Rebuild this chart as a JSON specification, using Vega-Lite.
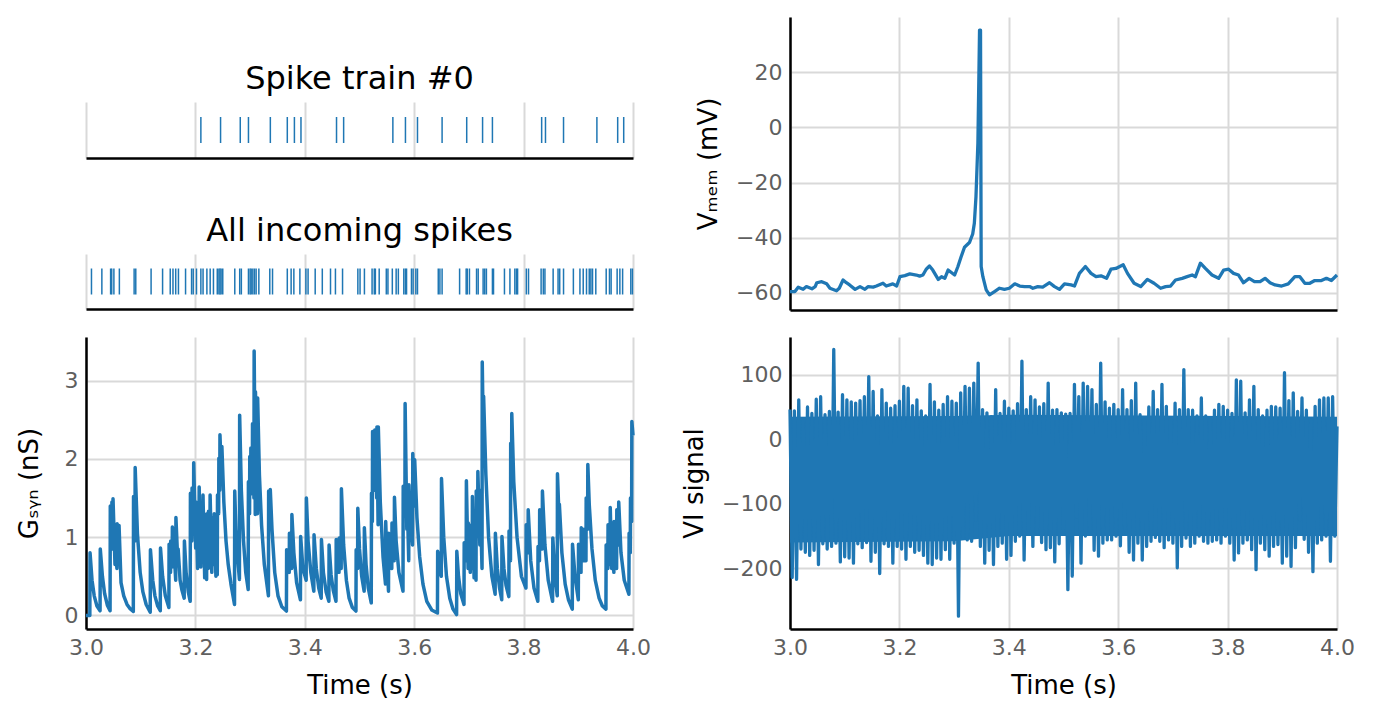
{
  "$schema": "https://vega.github.io/schema/vega-lite/v6.json",
  "padding": {"left": 16, "top": 17, "right": 0, "bottom": 0},
  "spacing": 30,
  "config": {
    "font": "DejaVu Sans",
    "view": {"stroke": null},
    "axis": {"labelFont": "DejaVu Sans", "labelFontSize": 22, "labelColor": "#5f5f5f", "titleFont": "DejaVu Sans", "titleFontSize": 26, "titleFontWeight": "normal", "titleColor": "#000000", "gridColor": "#d9d9d9", "gridWidth": 2, "domainColor": "#000000", "domainWidth": 2.5, "ticks": false, "labelPadding": 8, "labelFlush": false, "titlePadding": 14},
    "title": {"font": "DejaVu Sans", "fontSize": 32, "fontWeight": "normal", "color": "#000000"}
  },
  "datasets": {
    "spike0": [{"t":3.210},{"t":3.246},{"t":3.282},{"t":3.297},{"t":3.337},{"t":3.368},{"t":3.381},{"t":3.393},{"t":3.458},{"t":3.471},{"t":3.561},{"t":3.584},{"t":3.606},{"t":3.651},{"t":3.696},{"t":3.725},{"t":3.743},{"t":3.833},{"t":3.840},{"t":3.873},{"t":3.934},{"t":3.972},{"t":3.983}],
    "spikes": [{"t":3.010},{"t":3.029},{"t":3.045},{"t":3.047},{"t":3.051},{"t":3.061},{"t":3.088},{"t":3.091},{"t":3.119},{"t":3.140},{"t":3.154},{"t":3.159},{"t":3.164},{"t":3.169},{"t":3.182},{"t":3.193},{"t":3.196},{"t":3.202},{"t":3.210},{"t":3.214},{"t":3.221},{"t":3.227},{"t":3.233},{"t":3.240},{"t":3.243},{"t":3.245},{"t":3.247},{"t":3.250},{"t":3.272},{"t":3.281},{"t":3.284},{"t":3.297},{"t":3.300},{"t":3.302},{"t":3.305},{"t":3.308},{"t":3.311},{"t":3.316},{"t":3.336},{"t":3.341},{"t":3.368},{"t":3.375},{"t":3.380},{"t":3.391},{"t":3.402},{"t":3.406},{"t":3.419},{"t":3.432},{"t":3.447},{"t":3.456},{"t":3.469},{"t":3.497},{"t":3.501},{"t":3.509},{"t":3.523},{"t":3.527},{"t":3.529},{"t":3.536},{"t":3.549},{"t":3.552},{"t":3.560},{"t":3.567},{"t":3.571},{"t":3.581},{"t":3.584},{"t":3.586},{"t":3.595},{"t":3.598},{"t":3.603},{"t":3.606},{"t":3.644},{"t":3.647},{"t":3.651},{"t":3.683},{"t":3.695},{"t":3.697},{"t":3.701},{"t":3.714},{"t":3.717},{"t":3.726},{"t":3.729},{"t":3.732},{"t":3.743},{"t":3.745},{"t":3.765},{"t":3.775},{"t":3.784},{"t":3.787},{"t":3.789},{"t":3.805},{"t":3.809},{"t":3.832},{"t":3.836},{"t":3.839},{"t":3.854},{"t":3.863},{"t":3.866},{"t":3.873},{"t":3.891},{"t":3.903},{"t":3.909},{"t":3.915},{"t":3.920},{"t":3.923},{"t":3.926},{"t":3.932},{"t":3.951},{"t":3.957},{"t":3.960},{"t":3.971},{"t":3.976},{"t":3.981},{"t":3.996},{"t":3.999}],
    "gsyn": [{"t":3.000,"g":0},{"t":3.0070,"g":0},{"t":3.0074,"g":0.80},{"t":3.011,"g":0.45},{"t":3.015,"g":0.25},{"t":3.020,"g":0.12},{"t":3.0257,"g":0.06},{"t":3.0261,"g":0.85},{"t":3.030,"g":0.50},{"t":3.034,"g":0.28},{"t":3.039,"g":0.13},{"t":3.0440,"g":0.06},{"t":3.0444,"g":1.40},{"t":3.0470,"g":0.85},{"t":3.0474,"g":1.45},{"t":3.0490,"g":1.10},{"t":3.0494,"g":1.49},{"t":3.0530,"g":0.65},{"t":3.0534,"g":0.95},{"t":3.0565,"g":0.60},{"t":3.0569,"g":1.17},{"t":3.0600,"g":0.75},{"t":3.0604,"g":1.15},{"t":3.0640,"g":0.42},{"t":3.069,"g":0.25},{"t":3.075,"g":0.14},{"t":3.080,"g":0.09},{"t":3.0865,"g":0.05},{"t":3.0869,"g":1.52},{"t":3.0895,"g":0.95},{"t":3.0899,"g":1.89},{"t":3.094,"g":1.05},{"t":3.099,"g":0.55},{"t":3.104,"g":0.30},{"t":3.110,"g":0.14},{"t":3.1174,"g":0.04},{"t":3.1178,"g":0.84},{"t":3.122,"g":0.45},{"t":3.126,"g":0.25},{"t":3.131,"g":0.12},{"t":3.1358,"g":0.06},{"t":3.1362,"g":0.86},{"t":3.140,"g":0.50},{"t":3.145,"g":0.25},{"t":3.1515,"g":0.10},{"t":3.1519,"g":0.91},{"t":3.1545,"g":0.55},{"t":3.1549,"g":0.95},{"t":3.1575,"g":0.62},{"t":3.1579,"g":1.13},{"t":3.1605,"g":0.70},{"t":3.1609,"g":0.85},{"t":3.1640,"g":0.45},{"t":3.1644,"g":1.25},{"t":3.1680,"g":0.65},{"t":3.1684,"g":0.85},{"t":3.1720,"g":0.45},{"t":3.1755,"g":0.32},{"t":3.1795,"g":0.22},{"t":3.1799,"g":0.95},{"t":3.183,"g":0.55},{"t":3.187,"g":0.30},{"t":3.1905,"g":0.18},{"t":3.1909,"g":1.56},{"t":3.1935,"g":0.95},{"t":3.1939,"g":1.63},{"t":3.1965,"g":1.10},{"t":3.1969,"g":1.95},{"t":3.2005,"g":0.86},{"t":3.2009,"g":1.45},{"t":3.2040,"g":0.60},{"t":3.2044,"g":1.41},{"t":3.2065,"g":0.90},{"t":3.2069,"g":1.64},{"t":3.2100,"g":0.62},{"t":3.2104,"g":1.30},{"t":3.2135,"g":0.78},{"t":3.2139,"g":1.54},{"t":3.2170,"g":0.48},{"t":3.2174,"g":1.29},{"t":3.2205,"g":0.46},{"t":3.2209,"g":1.30},{"t":3.2235,"g":0.60},{"t":3.2239,"g":1.33},{"t":3.2265,"g":0.75},{"t":3.2269,"g":1.54},{"t":3.2300,"g":0.55},{"t":3.2304,"g":1.25},{"t":3.2340,"g":0.65},{"t":3.2344,"g":1.30},{"t":3.2375,"g":0.50},{"t":3.2379,"g":1.10},{"t":3.2400,"g":0.52},{"t":3.2404,"g":1.54},{"t":3.2425,"g":1.30},{"t":3.2429,"g":2.01},{"t":3.2445,"g":1.60},{"t":3.2449,"g":2.31},{"t":3.2480,"g":1.70},{"t":3.2484,"g":2.16},{"t":3.252,"g":1.45},{"t":3.256,"g":0.95},{"t":3.260,"g":0.65},{"t":3.265,"g":0.40},{"t":3.2715,"g":0.14},{"t":3.2719,"g":1.59},{"t":3.274,"g":1.10},{"t":3.277,"g":0.75},{"t":3.2805,"g":0.46},{"t":3.2809,"g":2.56},{"t":3.284,"g":1.60},{"t":3.288,"g":0.95},{"t":3.292,"g":0.55},{"t":3.2965,"g":0.33},{"t":3.2969,"g":1.71},{"t":3.2990,"g":1.30},{"t":3.2994,"g":2.03},{"t":3.3010,"g":1.55},{"t":3.3014,"g":2.14},{"t":3.3040,"g":1.60},{"t":3.3044,"g":2.45},{"t":3.3070,"g":1.50},{"t":3.3074,"g":3.38},{"t":3.3090,"g":2.00},{"t":3.3094,"g":1.29},{"t":3.3098,"g":2.86},{"t":3.3130,"g":1.70},{"t":3.3134,"g":1.30},{"t":3.3138,"g":2.78},{"t":3.317,"g":1.80},{"t":3.321,"g":1.15},{"t":3.326,"g":0.65},{"t":3.3335,"g":0.25},{"t":3.3339,"g":1.59},{"t":3.3365,"g":1.20},{"t":3.3369,"g":1.61},{"t":3.340,"g":1.10},{"t":3.345,"g":0.55},{"t":3.351,"g":0.25},{"t":3.358,"g":0.11},{"t":3.3664,"g":0.055},{"t":3.3668,"g":0.84},{"t":3.3715,"g":0.55},{"t":3.3719,"g":1.05},{"t":3.3760,"g":0.60},{"t":3.3764,"g":1.29},{"t":3.380,"g":0.80},{"t":3.385,"g":0.42},{"t":3.392,"g":0.20},{"t":3.3924,"g":1.01},{"t":3.3965,"g":0.60},{"t":3.4025,"g":0.45},{"t":3.4029,"g":1.50},{"t":3.406,"g":0.95},{"t":3.411,"g":0.55},{"t":3.4165,"g":0.31},{"t":3.4169,"g":1.03},{"t":3.421,"g":0.60},{"t":3.4255,"g":0.35},{"t":3.4300,"g":0.22},{"t":3.4304,"g":0.97},{"t":3.434,"g":0.55},{"t":3.439,"g":0.30},{"t":3.4440,"g":0.18},{"t":3.4444,"g":0.90},{"t":3.448,"g":0.52},{"t":3.452,"g":0.32},{"t":3.4570,"g":0.18},{"t":3.4574,"g":0.97},{"t":3.4625,"g":0.55},{"t":3.4629,"g":0.99},{"t":3.4665,"g":0.60},{"t":3.4669,"g":1.62},{"t":3.471,"g":0.90},{"t":3.476,"g":0.45},{"t":3.481,"g":0.22},{"t":3.487,"g":0.10},{"t":3.4935,"g":0.055},{"t":3.4939,"g":0.84},{"t":3.4965,"g":0.60},{"t":3.4969,"g":1.37},{"t":3.500,"g":0.85},{"t":3.504,"g":0.50},{"t":3.5085,"g":0.31},{"t":3.5089,"g":1.12},{"t":3.512,"g":0.65},{"t":3.516,"g":0.35},{"t":3.5215,"g":0.16},{"t":3.5219,"g":1.56},{"t":3.5235,"g":1.20},{"t":3.5239,"g":2.35},{"t":3.5275,"g":1.60},{"t":3.5279,"g":2.37},{"t":3.5315,"g":1.50},{"t":3.5319,"g":2.41},{"t":3.5340,"g":1.16},{"t":3.5344,"g":2.41},{"t":3.538,"g":1.45},{"t":3.543,"g":0.75},{"t":3.5475,"g":0.40},{"t":3.5479,"g":1.20},{"t":3.550,"g":0.75},{"t":3.5530,"g":0.31},{"t":3.5534,"g":1.05},{"t":3.5560,"g":0.75},{"t":3.5590,"g":0.60},{"t":3.5594,"g":1.18},{"t":3.5635,"g":0.70},{"t":3.5639,"g":1.51},{"t":3.567,"g":0.95},{"t":3.572,"g":0.55},{"t":3.5795,"g":0.31},{"t":3.5799,"g":1.65},{"t":3.5830,"g":1.30},{"t":3.5834,"g":2.71},{"t":3.5865,"g":1.10},{"t":3.5869,"g":1.60},{"t":3.5900,"g":0.70},{"t":3.5904,"g":1.67},{"t":3.5935,"g":1.00},{"t":3.5939,"g":1.20},{"t":3.5970,"g":0.90},{"t":3.5974,"g":2.07},{"t":3.6005,"g":1.40},{"t":3.6009,"g":1.99},{"t":3.605,"g":1.25},{"t":3.610,"g":0.75},{"t":3.616,"g":0.40},{"t":3.623,"g":0.18},{"t":3.632,"g":0.07},{"t":3.6425,"g":0.03},{"t":3.6429,"g":0.82},{"t":3.6495,"g":0.50},{"t":3.6499,"g":1.75},{"t":3.654,"g":1.00},{"t":3.659,"g":0.50},{"t":3.665,"g":0.22},{"t":3.671,"g":0.08},{"t":3.6775,"g":0.01},{"t":3.6779,"g":0.82},{"t":3.681,"g":0.50},{"t":3.685,"g":0.28},{"t":3.6910,"g":0.14},{"t":3.6914,"g":0.93},{"t":3.6950,"g":0.70},{"t":3.6954,"g":1.72},{"t":3.6985,"g":0.60},{"t":3.6989,"g":1.18},{"t":3.7025,"g":0.55},{"t":3.7029,"g":1.15},{"t":3.7060,"g":0.60},{"t":3.7064,"g":1.52},{"t":3.7095,"g":0.48},{"t":3.7099,"g":1.25},{"t":3.7130,"g":0.45},{"t":3.7134,"g":1.59},{"t":3.7160,"g":1.10},{"t":3.7164,"g":1.84},{"t":3.7200,"g":0.90},{"t":3.7204,"g":1.60},{"t":3.7240,"g":0.60},{"t":3.7244,"g":3.24},{"t":3.7265,"g":2.20},{"t":3.7269,"g":2.80},{"t":3.731,"g":1.80},{"t":3.736,"g":1.00},{"t":3.742,"g":0.50},{"t":3.748,"g":0.27},{"t":3.7484,"g":1.05},{"t":3.752,"g":0.60},{"t":3.756,"g":0.35},{"t":3.760,"g":0.20},{"t":3.7604,"g":1.01},{"t":3.764,"g":0.60},{"t":3.768,"g":0.38},{"t":3.7730,"g":0.24},{"t":3.7734,"g":1.08},{"t":3.7760,"g":0.70},{"t":3.7764,"g":2.20},{"t":3.7780,"g":1.80},{"t":3.7784,"g":2.58},{"t":3.782,"g":1.71},{"t":3.788,"g":1.00},{"t":3.796,"g":0.50},{"t":3.8043,"g":0.35},{"t":3.8047,"g":1.16},{"t":3.8080,"g":0.80},{"t":3.8084,"g":1.35},{"t":3.813,"g":0.70},{"t":3.819,"g":0.35},{"t":3.826,"g":0.18},{"t":3.8264,"g":0.88},{"t":3.8290,"g":0.70},{"t":3.8294,"g":1.35},{"t":3.8340,"g":0.85},{"t":3.8344,"g":1.59},{"t":3.839,"g":0.90},{"t":3.845,"g":0.45},{"t":3.8530,"g":0.18},{"t":3.8534,"g":0.99},{"t":3.8575,"g":0.50},{"t":3.8615,"g":0.25},{"t":3.8619,"g":1.81},{"t":3.8650,"g":1.20},{"t":3.8654,"g":1.42},{"t":3.870,"g":0.80},{"t":3.876,"g":0.40},{"t":3.882,"g":0.20},{"t":3.889,"g":0.08},{"t":3.8894,"g":0.91},{"t":3.894,"g":0.50},{"t":3.9000,"g":0.20},{"t":3.9004,"g":0.91},{"t":3.9050,"g":0.55},{"t":3.9054,"g":1.12},{"t":3.9095,"g":0.70},{"t":3.9099,"g":1.10},{"t":3.9140,"g":0.70},{"t":3.9144,"g":1.50},{"t":3.9170,"g":1.10},{"t":3.9174,"g":1.93},{"t":3.9200,"g":1.42},{"t":3.925,"g":0.85},{"t":3.931,"g":0.45},{"t":3.938,"g":0.22},{"t":3.944,"g":0.12},{"t":3.9505,"g":0.08},{"t":3.9509,"g":0.90},{"t":3.9540,"g":0.60},{"t":3.9544,"g":1.16},{"t":3.9580,"g":0.65},{"t":3.9584,"g":1.38},{"t":3.9610,"g":0.60},{"t":3.9614,"g":1.10},{"t":3.9650,"g":0.55},{"t":3.9654,"g":1.20},{"t":3.9700,"g":0.60},{"t":3.9704,"g":1.35},{"t":3.9735,"g":0.90},{"t":3.9739,"g":1.45},{"t":3.978,"g":0.80},{"t":3.984,"g":0.45},{"t":3.9925,"g":0.27},{"t":3.9929,"g":1.05},{"t":3.9950,"g":0.80},{"t":3.9954,"g":1.50},{"t":3.9975,"g":1.20},{"t":3.9979,"g":2.48},{"t":4.000,"g":2.30}],
    "vmem": [{"t":3.000,"v":-59.6},{"t":3.009,"v":-59.6},{"t":3.015,"v":-58.0},{"t":3.024,"v":-58.8},{"t":3.030,"v":-57.8},{"t":3.040,"v":-58.6},{"t":3.046,"v":-57.8},{"t":3.049,"v":-56.4},{"t":3.058,"v":-56.0},{"t":3.067,"v":-56.8},{"t":3.073,"v":-58.4},{"t":3.085,"v":-59.3},{"t":3.090,"v":-58.4},{"t":3.097,"v":-55.4},{"t":3.103,"v":-56.4},{"t":3.109,"v":-57.2},{"t":3.119,"v":-58.8},{"t":3.128,"v":-57.8},{"t":3.137,"v":-58.8},{"t":3.143,"v":-57.8},{"t":3.152,"v":-58.0},{"t":3.158,"v":-57.6},{"t":3.170,"v":-56.6},{"t":3.176,"v":-57.6},{"t":3.188,"v":-56.8},{"t":3.195,"v":-57.6},{"t":3.201,"v":-54.2},{"t":3.210,"v":-53.8},{"t":3.219,"v":-53.2},{"t":3.231,"v":-53.6},{"t":3.237,"v":-54.0},{"t":3.243,"v":-53.6},{"t":3.249,"v":-51.5},{"t":3.255,"v":-50.3},{"t":3.261,"v":-51.8},{"t":3.271,"v":-55.2},{"t":3.277,"v":-54.2},{"t":3.283,"v":-54.8},{"t":3.289,"v":-51.8},{"t":3.295,"v":-52.7},{"t":3.301,"v":-53.6},{"t":3.307,"v":-50.5},{"t":3.313,"v":-46.9},{"t":3.319,"v":-43.5},{"t":3.328,"v":-41.8},{"t":3.334,"v":-38.7},{"t":3.337,"v":-34.8},{"t":3.340,"v":-25.1},{"t":3.3435,"v":-5.7},{"t":3.3453,"v":18.5},{"t":3.3465,"v":35.3},{"t":3.3483,"v":35.3},{"t":3.3495,"v":-50.5},{"t":3.3526,"v":-54.2},{"t":3.3587,"v":-59.0},{"t":3.3647,"v":-60.8},{"t":3.3739,"v":-59.6},{"t":3.383,"v":-58.4},{"t":3.392,"v":-58.8},{"t":3.401,"v":-58.4},{"t":3.411,"v":-56.8},{"t":3.420,"v":-57.6},{"t":3.429,"v":-57.8},{"t":3.438,"v":-57.8},{"t":3.444,"v":-58.4},{"t":3.453,"v":-57.8},{"t":3.462,"v":-58.0},{"t":3.4745,"v":-56.4},{"t":3.4836,"v":-57.8},{"t":3.4927,"v":-58.8},{"t":3.5018,"v":-56.8},{"t":3.5139,"v":-57.2},{"t":3.520,"v":-57.6},{"t":3.5291,"v":-53.0},{"t":3.540,"v":-50.5},{"t":3.5503,"v":-53.0},{"t":3.5594,"v":-54.2},{"t":3.5685,"v":-53.9},{"t":3.5788,"v":-54.8},{"t":3.5867,"v":-51.5},{"t":3.5958,"v":-51.2},{"t":3.6091,"v":-49.9},{"t":3.617,"v":-53.0},{"t":3.6291,"v":-56.6},{"t":3.6412,"v":-57.8},{"t":3.6533,"v":-55.2},{"t":3.6655,"v":-56.6},{"t":3.6776,"v":-58.4},{"t":3.6867,"v":-57.8},{"t":3.6958,"v":-57.6},{"t":3.7048,"v":-55.4},{"t":3.717,"v":-54.8},{"t":3.7261,"v":-54.2},{"t":3.7352,"v":-53.6},{"t":3.7412,"v":-54.2},{"t":3.7503,"v":-49.3},{"t":3.7594,"v":-51.2},{"t":3.7715,"v":-53.6},{"t":3.7836,"v":-54.8},{"t":3.7927,"v":-51.8},{"t":3.8018,"v":-51.5},{"t":3.8109,"v":-53.0},{"t":3.820,"v":-53.6},{"t":3.8291,"v":-56.4},{"t":3.8394,"v":-54.8},{"t":3.8491,"v":-56.0},{"t":3.8594,"v":-56.0},{"t":3.8685,"v":-54.8},{"t":3.8776,"v":-56.4},{"t":3.8867,"v":-57.2},{"t":3.8988,"v":-57.6},{"t":3.9109,"v":-56.8},{"t":3.923,"v":-54.2},{"t":3.9321,"v":-54.2},{"t":3.9412,"v":-56.6},{"t":3.9503,"v":-56.6},{"t":3.9594,"v":-55.6},{"t":3.9715,"v":-55.6},{"t":3.9806,"v":-54.8},{"t":3.9897,"v":-55.6},{"t":4.000,"v":-53.6}],
    "vicore": [{"t":3.0,"lo":-160,"hi":35},{"t":3.3,"lo":-158,"hi":36},{"t":3.4,"lo":-150,"hi":38},{"t":4.0,"lo":-150,"hi":35}],
    "vi": [{"t":3.000,"v":46},{"t":3.004,"v":-214},{"t":3.008,"v":44},{"t":3.012,"v":-217},{"t":3.016,"v":61},{"t":3.020,"v":-170},{"t":3.024,"v":32},{"t":3.028,"v":-175},{"t":3.032,"v":50},{"t":3.036,"v":-180},{"t":3.040,"v":40},{"t":3.044,"v":-172},{"t":3.048,"v":62},{"t":3.052,"v":-194},{"t":3.056,"v":66},{"t":3.060,"v":-162},{"t":3.064,"v":38},{"t":3.068,"v":-170},{"t":3.072,"v":43},{"t":3.076,"v":-166},{"t":3.080,"v":139},{"t":3.084,"v":-161},{"t":3.088,"v":42},{"t":3.092,"v":-190},{"t":3.096,"v":69},{"t":3.100,"v":-182},{"t":3.104,"v":61},{"t":3.108,"v":-184},{"t":3.112,"v":58},{"t":3.116,"v":-192},{"t":3.120,"v":56},{"t":3.124,"v":-162},{"t":3.128,"v":60},{"t":3.132,"v":-168},{"t":3.136,"v":66},{"t":3.140,"v":-160},{"t":3.144,"v":97},{"t":3.148,"v":-189},{"t":3.152,"v":74},{"t":3.156,"v":-175},{"t":3.160,"v":36},{"t":3.164,"v":-208},{"t":3.168,"v":77},{"t":3.172,"v":-162},{"t":3.176,"v":56},{"t":3.180,"v":-166},{"t":3.184,"v":48},{"t":3.188,"v":-192},{"t":3.192,"v":52},{"t":3.196,"v":-166},{"t":3.200,"v":59},{"t":3.204,"v":-170},{"t":3.208,"v":82},{"t":3.212,"v":-186},{"t":3.216,"v":79},{"t":3.220,"v":-166},{"t":3.224,"v":52},{"t":3.228,"v":-175},{"t":3.232,"v":61},{"t":3.236,"v":-172},{"t":3.240,"v":44},{"t":3.244,"v":-180},{"t":3.248,"v":36},{"t":3.252,"v":-192},{"t":3.256,"v":85},{"t":3.260,"v":-194},{"t":3.264,"v":58},{"t":3.268,"v":-184},{"t":3.272,"v":45},{"t":3.276,"v":-186},{"t":3.280,"v":54},{"t":3.284,"v":-171},{"t":3.288,"v":66},{"t":3.292,"v":-186},{"t":3.296,"v":59},{"t":3.300,"v":-161},{"t":3.304,"v":56},{"t":3.308,"v":-274},{"t":3.312,"v":72},{"t":3.316,"v":-153},{"t":3.320,"v":82},{"t":3.324,"v":-156},{"t":3.328,"v":79},{"t":3.332,"v":-158},{"t":3.336,"v":87},{"t":3.340,"v":-125},{"t":3.344,"v":118},{"t":3.348,"v":-166},{"t":3.352,"v":46},{"t":3.356,"v":-192},{"t":3.360,"v":41},{"t":3.364,"v":-172},{"t":3.368,"v":35},{"t":3.372,"v":-194},{"t":3.376,"v":77},{"t":3.380,"v":-166},{"t":3.384,"v":40},{"t":3.388,"v":-161},{"t":3.392,"v":59},{"t":3.396,"v":-186},{"t":3.400,"v":48},{"t":3.404,"v":-180},{"t":3.408,"v":44},{"t":3.412,"v":-158},{"t":3.416,"v":55},{"t":3.420,"v":-150},{"t":3.424,"v":121},{"t":3.428,"v":-187},{"t":3.432,"v":46},{"t":3.436,"v":-140},{"t":3.440,"v":66},{"t":3.444,"v":-166},{"t":3.448,"v":61},{"t":3.452,"v":-145},{"t":3.456,"v":50},{"t":3.460,"v":-160},{"t":3.464,"v":55},{"t":3.468,"v":-171},{"t":3.472,"v":87},{"t":3.476,"v":-168},{"t":3.480,"v":45},{"t":3.484,"v":-190},{"t":3.488,"v":46},{"t":3.492,"v":-162},{"t":3.496,"v":41},{"t":3.500,"v":-140},{"t":3.504,"v":39},{"t":3.508,"v":-233},{"t":3.512,"v":40},{"t":3.516,"v":-212},{"t":3.520,"v":85},{"t":3.524,"v":-120},{"t":3.528,"v":66},{"t":3.532,"v":-192},{"t":3.536,"v":87},{"t":3.540,"v":-150},{"t":3.544,"v":82},{"t":3.548,"v":-142},{"t":3.552,"v":77},{"t":3.556,"v":-172},{"t":3.560,"v":54},{"t":3.564,"v":-181},{"t":3.568,"v":118},{"t":3.572,"v":-161},{"t":3.576,"v":58},{"t":3.580,"v":-156},{"t":3.584,"v":48},{"t":3.588,"v":-156},{"t":3.592,"v":54},{"t":3.596,"v":-150},{"t":3.600,"v":46},{"t":3.604,"v":-165},{"t":3.608,"v":77},{"t":3.612,"v":-140},{"t":3.616,"v":46},{"t":3.620,"v":-175},{"t":3.624,"v":60},{"t":3.628,"v":-187},{"t":3.632,"v":87},{"t":3.636,"v":-161},{"t":3.640,"v":38},{"t":3.644,"v":-187},{"t":3.648,"v":30},{"t":3.652,"v":-166},{"t":3.656,"v":50},{"t":3.660,"v":-158},{"t":3.664,"v":74},{"t":3.668,"v":-152},{"t":3.672,"v":46},{"t":3.676,"v":-158},{"t":3.680,"v":85},{"t":3.684,"v":-168},{"t":3.688,"v":51},{"t":3.692,"v":-156},{"t":3.696,"v":32},{"t":3.700,"v":-161},{"t":3.704,"v":56},{"t":3.708,"v":-199},{"t":3.712,"v":46},{"t":3.716,"v":-166},{"t":3.720,"v":108},{"t":3.724,"v":-153},{"t":3.728,"v":46},{"t":3.732,"v":-166},{"t":3.736,"v":45},{"t":3.740,"v":-161},{"t":3.744,"v":36},{"t":3.748,"v":-150},{"t":3.752,"v":64},{"t":3.756,"v":-158},{"t":3.760,"v":36},{"t":3.764,"v":-161},{"t":3.768,"v":33},{"t":3.772,"v":-158},{"t":3.776,"v":45},{"t":3.780,"v":-156},{"t":3.784,"v":54},{"t":3.788,"v":-161},{"t":3.792,"v":51},{"t":3.796,"v":-150},{"t":3.800,"v":45},{"t":3.804,"v":-161},{"t":3.808,"v":40},{"t":3.812,"v":-187},{"t":3.816,"v":92},{"t":3.820,"v":-176},{"t":3.824,"v":90},{"t":3.828,"v":-161},{"t":3.832,"v":41},{"t":3.836,"v":-156},{"t":3.840,"v":61},{"t":3.844,"v":-171},{"t":3.848,"v":82},{"t":3.852,"v":-202},{"t":3.856,"v":46},{"t":3.860,"v":-161},{"t":3.864,"v":36},{"t":3.868,"v":-171},{"t":3.872,"v":45},{"t":3.876,"v":-181},{"t":3.880,"v":51},{"t":3.884,"v":-166},{"t":3.888,"v":50},{"t":3.892,"v":-163},{"t":3.896,"v":48},{"t":3.900,"v":-192},{"t":3.904,"v":103},{"t":3.908,"v":-181},{"t":3.912,"v":60},{"t":3.916,"v":-197},{"t":3.920,"v":72},{"t":3.924,"v":-168},{"t":3.928,"v":43},{"t":3.932,"v":-125},{"t":3.936,"v":64},{"t":3.940,"v":-155},{"t":3.944,"v":45},{"t":3.948,"v":-175},{"t":3.952,"v":30},{"t":3.956,"v":-205},{"t":3.960,"v":51},{"t":3.964,"v":-161},{"t":3.968,"v":61},{"t":3.972,"v":-156},{"t":3.976,"v":64},{"t":3.980,"v":-150},{"t":3.984,"v":64},{"t":3.988,"v":-189},{"t":3.992,"v":66},{"t":3.996,"v":-150},{"t":4.000,"v":20}]
  },
  "hconcat": [
    {
      "spacing": 28,
      "vconcat": [
        {
          "width": 547, "height": 18,
          "data": {"values": [{}]},
          "mark": {"type": "text", "text": ""},
          "encoding": {}
        },
        {
          "spacing": 57,
          "vconcat": [
            {
              "width": 547, "height": 56,
              "title": {"text": "Spike train #0", "offset": 6},
              "data": {"name": "spike0"},
              "mark": {"type": "tick", "size": 26, "thickness": 1.5, "color": "#1f77b4", "opacity": 1},
              "encoding": {
                "x": {"field": "t", "type": "quantitative", "scale": {"domain": [3, 4], "nice": false}, "axis": {"values": [3, 3.2, 3.4, 3.6, 3.8, 4], "labels": false, "title": null, "grid": true}}
              }
            },
            {
              "width": 547, "height": 55,
              "title": {"text": "All incoming spikes", "offset": 6},
              "data": {"name": "spikes"},
              "mark": {"type": "tick", "size": 26, "thickness": 1.5, "color": "#1f77b4", "opacity": 1},
              "encoding": {
                "x": {"field": "t", "type": "quantitative", "scale": {"domain": [3, 4], "nice": false}, "axis": {"values": [3, 3.2, 3.4, 3.6, 3.8, 4], "labels": false, "title": null, "grid": true}}
              }
            }
          ]
        },
        {
          "width": 547, "height": 292,
          "data": {"name": "gsyn"},
          "mark": {"type": "line", "color": "#1f77b4", "strokeWidth": 3.5, "strokeJoin": "round"},
          "encoding": {
            "x": {"field": "t", "type": "quantitative", "scale": {"domain": [3, 4], "nice": false}, "axis": {"values": [3, 3.2, 3.4, 3.6, 3.8, 4], "format": ".1f", "title": "Time (s)", "grid": true}},
            "y": {"field": "g", "type": "quantitative", "scale": {"domain": [-0.174, 3.559], "nice": false, "zero": false}, "axis": {"values": [0, 1, 2, 3], "format": "d", "title": "Gₛᵧₙ (nS)", "titlePadding": 22, "grid": true}}
          }
        }
      ]
    },
    {
      "spacing": 27,
      "vconcat": [
        {
          "width": 547, "height": 293,
          "data": {"name": "vmem"},
          "mark": {"type": "line", "color": "#1f77b4", "strokeWidth": 3.3, "strokeJoin": "round"},
          "encoding": {
            "x": {"field": "t", "type": "quantitative", "scale": {"domain": [3, 4], "nice": false}, "axis": {"values": [3, 3.2, 3.4, 3.6, 3.8, 4], "labels": false, "title": null, "grid": true}},
            "y": {"field": "v", "type": "quantitative", "scale": {"domain": [-66.3, 40.1], "nice": false, "zero": false}, "axis": {"values": [-60, -40, -20, 0, 20], "format": "d", "title": "Vₘₑₘ (mV)", "grid": true}}
          }
        },
        {
          "width": 547, "height": 292,
          "layer": [
            {
              "data": {"name": "vicore"},
              "mark": {"type": "area", "color": "#1f77b4", "opacity": 1},
              "encoding": {
                "x": {"field": "t", "type": "quantitative", "scale": {"domain": [3, 4], "nice": false}, "axis": {"values": [3, 3.2, 3.4, 3.6, 3.8, 4], "format": ".1f", "title": "Time (s)", "grid": true}},
                "y": {"field": "lo", "type": "quantitative", "scale": {"domain": [-293.9, 158.4], "nice": false, "zero": false}, "axis": {"values": [-200, -100, 0, 100], "format": "d", "title": "VI signal", "grid": true}},
                "y2": {"field": "hi"}
              }
            },
            {
              "data": {"name": "vi"},
              "mark": {"type": "line", "color": "#1f77b4", "strokeWidth": 3.3, "strokeJoin": "round"},
              "encoding": {
                "x": {"field": "t", "type": "quantitative"},
                "y": {"field": "v", "type": "quantitative"}
              }
            }
          ]
        }
      ]
    }
  ]
}
